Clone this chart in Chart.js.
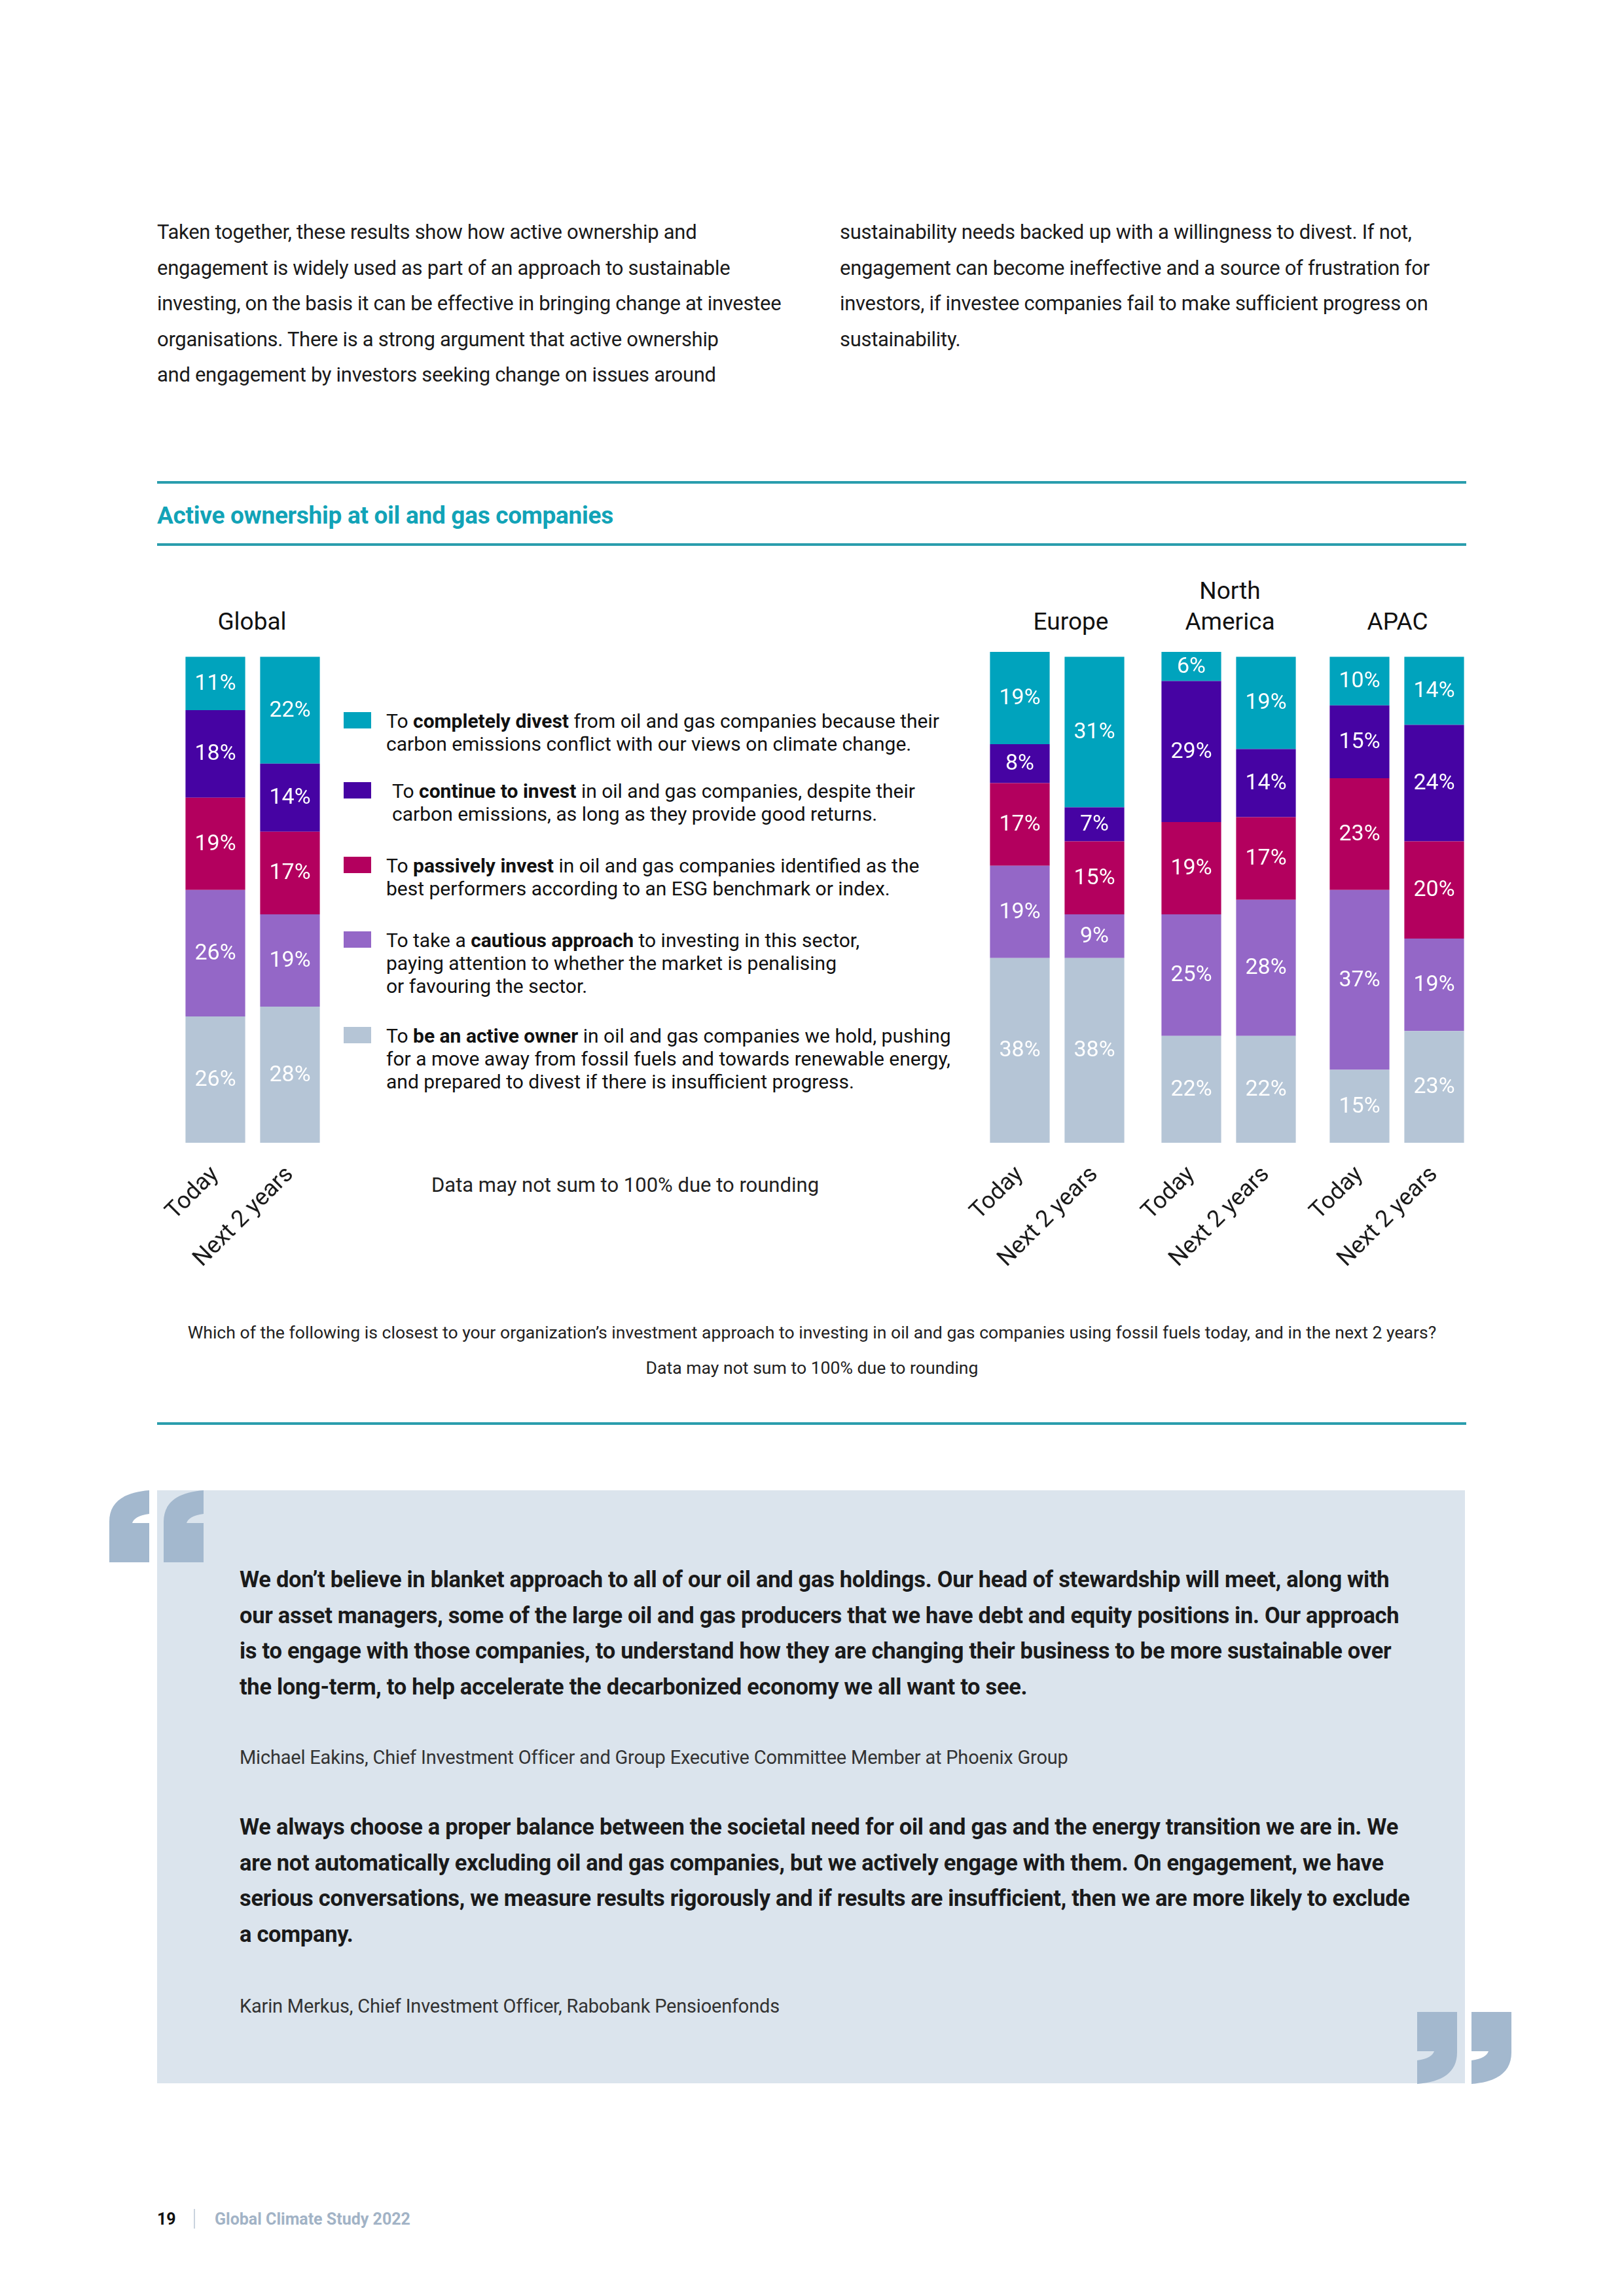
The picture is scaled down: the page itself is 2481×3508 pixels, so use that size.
<!DOCTYPE html>
<html>
<head>
<meta charset="utf-8">
<script src="https://cdn.jsdelivr.net/npm/chart.js@4.4.1/dist/chart.umd.min.js"></script>
<style>
    html, body { margin: 0; padding: 0; background: #fff; }
    body { width: 2481px; height: 3508px; position: relative; overflow: hidden; font-family: Roboto, sans-serif; color: #1a1a1a; }
    .abs { position: absolute; white-space: nowrap; }
    .para { font-size: 31px; line-height: 54.5px; letter-spacing: -0.3px; }
    .rule { position: absolute; left: 240px; width: 2000px; height: 4px; background: #2a9dad; }
    .title { font-size: 37px; font-weight: bold; color: #12a3b7; line-height: 60px; letter-spacing: -0.3px; }
    .region { font-size: 37px; line-height: 47px; text-align: center; color: #111; transform: translateX(-50%); }
    .legend-item { position: absolute; left: 525px; display: flex; align-items: flex-start; }
    .swatch { width: 42px; height: 25px; margin-top: 4px; flex: none; }
    .legend-text { font-size: 30px; line-height: 35px; margin-left: 23px; white-space: nowrap; color: #111; }
    .note { font-size: 31px; line-height: 40px; color: #222; transform: translateX(-50%); }
    .foot { font-size: 26.6px; line-height: 54px; text-align: center; color: #222; width: 2481px; left: 0; }
    .box { position: absolute; left: 240px; top: 2277px; width: 1998px; height: 906px; background: #dbe4ed; }
    .quote { font-size: 34.5px; font-weight: bold; line-height: 54.6px; color: #1a1a1a; letter-spacing: -0.3px; }
    .attr { font-size: 29px; line-height: 54px; color: #333; letter-spacing: -0.2px; }
    canvas { position: absolute; }
</style>
</head>
<body>

<div class="abs para" style="left:240px; top:328px;">
    Taken together, these results show how active ownership and<br>
    engagement is widely used as part of an approach to sustainable<br>
    investing, on the basis it can be effective in bringing change at investee<br>
    organisations. There is a strong argument that active ownership<br>
    and engagement by investors seeking change on issues around
</div>
<div class="abs para" style="left:1283px; top:328px;">
    sustainability needs backed up with a willingness to divest. If not,<br>
    engagement can become ineffective and a source of frustration for<br>
    investors, if investee companies fail to make sufficient progress on<br>
    sustainability.
</div>

<div class="rule" style="top:735px;"></div>
<div class="abs title" style="left:240px; top:758px;">Active ownership at oil and gas companies</div>
<div class="rule" style="top:830px;"></div>

<div class="abs region" style="left:385px; top:926px;">Global</div>
<div class="abs region" style="left:1636px; top:926px;">Europe</div>
<div class="abs region" style="left:1879px; top:879px;">North<br>America</div>
<div class="abs region" style="left:2135px; top:926px;">APAC</div>

<div id="legend"></div>

<div class="abs note" style="left:955px; top:1791px;">Data may not sum to 100% due to rounding</div>

<canvas id="chart-global" width="348" height="970" style="left:172px; top:996px; width:348px; height:970px;"></canvas>
<canvas id="chart-europe" width="348" height="970" style="left:1401px; top:996px; width:348px; height:970px;"></canvas>
<canvas id="chart-na" width="348" height="970" style="left:1663px; top:996px; width:348px; height:970px;"></canvas>
<canvas id="chart-apac" width="348" height="970" style="left:1920px; top:996px; width:348px; height:970px;"></canvas>

<div class="abs foot" style="top:2009px;">
    Which of the following is closest to your organization’s investment approach to investing in oil and gas companies using fossil fuels today, and in the next 2 years?<br>
    Data may not sum to 100% due to rounding
</div>

<div class="rule" style="top:2173px;"></div>

<div class="box"></div>
<svg class="abs" style="left:167px; top:2277px;" width="145" height="110" viewBox="0 0 145 110">
    <path fill="#a3b8ce" d="M0,110 L0,48 C0,18 22,3 61,0 L61,36 C44,38 37,44 35,50 L61,50 L61,110 Z"/>
    <path fill="#a3b8ce" d="M83,110 L83,48 C83,18 105,3 144,0 L144,36 C127,38 120,44 118,50 L144,50 L144,110 Z"/>
</svg>
<svg class="abs" style="left:2165px; top:3074px;" width="145" height="110" viewBox="0 0 145 110">
    <path fill="#a3b8ce" d="M61,0 L61,62 C61,92 39,107 0,110 L0,74 C17,72 24,66 26,60 L0,60 L0,0 Z"/>
    <path fill="#a3b8ce" d="M144,0 L144,62 C144,92 122,107 83,110 L83,74 C100,72 107,66 109,60 L83,60 L83,0 Z"/>
</svg>

<div class="abs quote" style="left:366px; top:2386px;">
    We don’t believe in blanket approach to all of our oil and gas holdings. Our head of stewardship will meet, along with<br>
    our asset managers, some of the large oil and gas producers that we have debt and equity positions in. Our approach<br>
    is to engage with those companies, to understand how they are changing their business to be more sustainable over<br>
    the long-term, to help accelerate the decarbonized economy we all want to see.
</div>
<div class="abs attr" style="left:366px; top:2658px;">Michael Eakins, Chief Investment Officer and Group Executive Committee Member at Phoenix Group</div>
<div class="abs quote" style="left:366px; top:2764px;">
    We always choose a proper balance between the societal need for oil and gas and the energy transition we are in. We<br>
    are not automatically excluding oil and gas companies, but we actively engage with them. On engagement, we have<br>
    serious conversations, we measure results rigorously and if results are insufficient, then we are more likely to exclude<br>
    a company.
</div>
<div class="abs attr" style="left:366px; top:3038px;">Karin Merkus, Chief Investment Officer, Rabobank Pensioenfonds</div>

<div class="abs" style="left:240px; top:3373px; font-size:25px; line-height:36px; font-weight:bold; color:#111;">19</div>
<div class="abs" style="left:296px; top:3375px; width:2px; height:30px; background:#c9d3de;"></div>
<div class="abs" style="left:328px; top:3373px; font-size:25px; line-height:36px; font-weight:bold; color:#a2b3c6;">Global Climate Study 2022</div>

<script>
const periods = ['Today', 'Next 2 years'];
const regionNames = ['Global', 'Europe', 'North America', 'APAC'];

// order: Global Today, Global Next, Europe Today, Europe Next, NA Today, NA Next, APAC Today, APAC Next
const activeOwnerValues = [26, 28, 38, 38, 22, 22, 15, 23];
const cautiousValues = [26, 19, 19, 9, 25, 28, 37, 19];
const passiveValues = [19, 17, 17, 15, 19, 17, 23, 20];
const continueValues = [18, 14, 8, 7, 29, 14, 15, 24];
const divestValues = [11, 22, 19, 31, 6, 19, 10, 14];

const seriesNames = ['Be an active owner', 'Cautious approach', 'Passively invest', 'Continue to invest', 'Completely divest'];
const seriesColors = ['#b5c5d6', '#9467c7', '#b3005e', '#4603a3', '#00a3bd'];

const legendItems = [
    { color: '#00a3bd', indent: 0, html: 'To <b>completely divest</b> from oil and gas companies because their<br>carbon emissions conflict with our views on climate change.' },
    { color: '#4603a3', indent: 9, html: 'To <b>continue to invest</b> in oil and gas companies, despite their<br>carbon emissions, as long as they provide good returns.' },
    { color: '#b3005e', indent: 0, html: 'To <b>passively invest</b> in oil and gas companies identified as the<br>best performers according to an ESG benchmark or index.' },
    { color: '#9467c7', indent: 0, html: 'To take a <b>cautious approach</b> to investing in this sector,<br>paying attention to whether the market is penalising<br>or favouring the sector.' },
    { color: '#b5c5d6', indent: 0, html: 'To <b>be an active owner</b> in oil and gas companies we hold, pushing<br>for a move away from fossil fuels and towards renewable energy,<br>and prepared to divest if there is insufficient progress.' }
];
const legendTops = [1084, 1191, 1305, 1419, 1565];

Chart.defaults.font.family = 'Roboto';

const segmentLabels = {
    id: 'segmentLabels',
    afterDatasetsDraw(chart) {
        const ctx = chart.ctx;
        ctx.save();
        ctx.fillStyle = '#ffffff';
        ctx.font = '34px Roboto';
        ctx.textAlign = 'center';
        ctx.textBaseline = 'middle';
        chart.data.datasets.forEach((dataset, i) => {
            const meta = chart.getDatasetMeta(i);
            meta.data.forEach((bar, j) => {
                const props = bar.getProps(['x', 'y', 'base'], true);
                ctx.fillText(dataset.data[j] + '%', props.x, (props.y + props.base) / 2 + 1);
            });
        });
        ctx.restore();
    }
};

function buildLegend() {
    const legend = document.getElementById('legend');
    legendItems.forEach((item, index) => {
        const div = document.createElement('div');
        div.className = 'legend-item';
        div.style.top = legendTops[index] + 'px';
        div.innerHTML = `
            <div class="swatch" style="background:${item.color}"></div>
            <div class="legend-text" style="margin-left:${23 + item.indent}px">${item.html}</div>
        `;
        legend.appendChild(div);
    });
}

function createRegionChart(canvasId, regionIndex) {
    const start = regionIndex * 2;
    const seriesValues = [activeOwnerValues, cautiousValues, passiveValues, continueValues, divestValues];

    const datasets = seriesValues.map((values, i) => ({
        label: seriesNames[i],
        data: values.slice(start, start + 2),
        backgroundColor: seriesColors[i],
        borderWidth: 0,
        categoryPercentage: 1,
        barPercentage: 0.8
    }));

    new Chart(document.getElementById(canvasId), {
        type: 'bar',
        data: { labels: periods, datasets: datasets },
        options: {
            responsive: false,
            animation: false,
            devicePixelRatio: 1,
            layout: { padding: { left: 100, right: 20, top: 0, bottom: 0 } },
            plugins: {
                legend: { display: false },
                tooltip: { enabled: false },
                title: { display: false }
            },
            scales: {
                x: {
                    stacked: true,
                    grid: { display: false, drawTicks: false },
                    border: { display: false },
                    ticks: {
                        color: '#1a1a1a',
                        font: { size: 36 },
                        minRotation: 45,
                        maxRotation: 45,
                        autoSkip: false,
                        padding: 28
                    },
                    afterFit(scale) {
                        scale.height = 220;
                    }
                },
                y: {
                    stacked: true,
                    display: false,
                    min: 0,
                    max: 101
                }
            }
        },
        plugins: [segmentLabels]
    });
}

buildLegend();
createRegionChart('chart-global', 0);
createRegionChart('chart-europe', 1);
createRegionChart('chart-na', 2);
createRegionChart('chart-apac', 3);
</script>
</body>
</html>
